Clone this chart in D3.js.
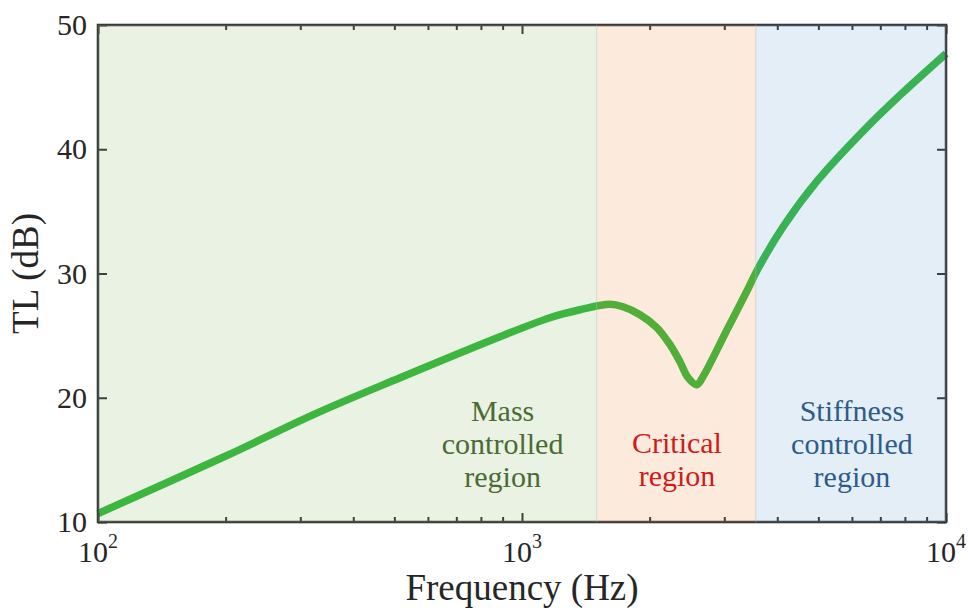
<!DOCTYPE html>
<html>
<head>
<meta charset="utf-8">
<script src="https://cdn.jsdelivr.net/npm/d3@7"></script>
<style>
  body { margin: 0; background: #fff; }
  svg text { font-family: "Liberation Serif", "DejaVu Serif", serif; fill: #262626; }
</style>
</head>
<body>
<div id="chart"></div>
<script>
let width = 968;
let height = 610;
let margin = ({top: 25, right: 22, bottom: 88, left: 98});

// Transmission loss curve
let freq = [100, 199, 330, 516, 887, 1164, 1370, 1613, 1731, 1898, 2082, 2234, 2358, 2464, 2586, 2673, 3045, 3395, 3581, 4127, 4990, 6513, 7795, 10000];
let tl   = [10.68, 15.27, 18.8, 21.61, 24.91, 26.44, 27.08, 27.52, 27.32, 26.68, 25.63, 24.27, 22.9, 21.62, 21.05, 21.7, 25.47, 28.61, 30.22, 33.75, 37.53, 41.79, 44.36, 47.7];

// Shaded regions
let regionStart = [100, 1500, 3560];
let regionEnd   = [1500, 3560, 10000];
let regionFill  = ["#91be73", "#f09650", "#78aad7"];

// Region labels
let labelLines = [["Mass", "controlled", "region"], ["Critical", "region"], ["Stiffness", "controlled", "region"]];
let labelFreq  = [900, 2320, 6000];
let labelTL    = [16.3, 15.0, 16.3];
let labelColor = ["#4b6a35", "#cc1c1c", "#2f5b8a"];

let xMajor = [100, 1000, 10000];
let xMinor = [200, 300, 400, 500, 600, 700, 800, 900, 2000, 3000, 4000, 5000, 6000, 7000, 8000, 9000];
let yTicks = [10, 20, 30, 40, 50];

let svg = d3.select("#chart")
    .append("svg")
    .attr("width", width)
    .attr("height", height);

let xScale = d3.scaleLog()
    .domain([100, 10000])
    .range([margin.left, width - margin.right]);

let yScale = d3.scaleLinear()
    .domain([10, 50])
    .range([height - margin.bottom, margin.top]);

let axisColor = "#262626";

// Curve first, the translucent patches go over it (gives the tinted look)
let line = d3.line()
    .x(function(d, i) { return xScale(freq[i]); })
    .y(function(d) { return yScale(d); })
    .curve(d3.curveCatmullRom.alpha(0.5));

svg.append("path")
    .datum(tl)
    .attr("fill", "none")
    .attr("stroke", "#28b434")
    .attr("stroke-width", 7.5)
    .attr("d", line);

// Box
svg.append("rect")
    .attr("x", margin.left)
    .attr("y", margin.top)
    .attr("width", width - margin.left - margin.right)
    .attr("height", height - margin.top - margin.bottom)
    .attr("fill", "none")
    .attr("stroke", axisColor)
    .attr("stroke-width", 2.5);

// Ticks, all pointing inward
function styleAxis(g) {
    g.select(".domain").remove();
    g.selectAll(".tick line").attr("stroke", axisColor).attr("stroke-width", 2);
    g.selectAll(".tick text").remove();
}

svg.append("g")
    .attr("transform", "translate(0," + (height - margin.bottom) + ")")
    .call(d3.axisBottom(xScale).tickValues(xMajor).tickSize(-9))
    .call(styleAxis);
svg.append("g")
    .attr("transform", "translate(0," + (height - margin.bottom) + ")")
    .call(d3.axisBottom(xScale).tickValues(xMinor).tickSize(-5))
    .call(styleAxis);
svg.append("g")
    .attr("transform", "translate(0," + margin.top + ")")
    .call(d3.axisTop(xScale).tickValues(xMajor).tickSize(-9))
    .call(styleAxis);
svg.append("g")
    .attr("transform", "translate(0," + margin.top + ")")
    .call(d3.axisTop(xScale).tickValues(xMinor).tickSize(-5))
    .call(styleAxis);
svg.append("g")
    .attr("transform", "translate(" + margin.left + ",0)")
    .call(d3.axisLeft(yScale).tickValues(yTicks).tickSize(-9))
    .call(styleAxis);
svg.append("g")
    .attr("transform", "translate(" + (width - margin.right) + ",0)")
    .call(d3.axisRight(yScale).tickValues(yTicks).tickSize(-9))
    .call(styleAxis);

// Patches on top
svg.selectAll(".region")
    .data(regionStart)
    .enter()
    .append("rect")
    .attr("class", "region")
    .attr("x", function(d) { return xScale(d); })
    .attr("y", yScale(50))
    .attr("width", function(d, i) { return xScale(regionEnd[i]) - xScale(d); })
    .attr("height", yScale(10) - yScale(50))
    .attr("fill", function(d, i) { return regionFill[i]; })
    .attr("fill-opacity", 0.2)
    .attr("stroke", "#b8c4d0")
    .attr("stroke-opacity", 0.25)
    .attr("stroke-width", 1);

// Tick labels
svg.selectAll(".ylab")
    .data(yTicks)
    .enter()
    .append("text")
    .attr("class", "ylab")
    .attr("x", margin.left - 11)
    .attr("y", function(d) { return yScale(d); })
    .attr("dy", "0.34em")
    .attr("text-anchor", "end")
    .style("font-size", "30px")
    .text(function(d) { return d; });

let xLabels = svg.selectAll(".xlab")
    .data(xMajor)
    .enter()
    .append("text")
    .attr("class", "xlab")
    .attr("x", function(d) { return xScale(d); })
    .attr("y", height - margin.bottom + 40)
    .attr("text-anchor", "middle")
    .style("font-size", "30px");
xLabels.append("tspan").text("10");
xLabels.append("tspan")
    .attr("dy", -14)
    .style("font-size", "20px")
    .text(function(d) { return Math.round(Math.log10(d)); });

// Axis titles
svg.append("text")
    .attr("x", (margin.left + width - margin.right) / 2)
    .attr("y", 600)
    .attr("text-anchor", "middle")
    .style("font-size", "37px")
    .text("Frequency (Hz)");

svg.append("text")
    .attr("transform", "translate(38," + ((margin.top + height - margin.bottom) / 2) + ") rotate(-90)")
    .attr("text-anchor", "middle")
    .style("font-size", "37px")
    .text("TL (dB)");

// Region labels
labelLines.forEach(function(lines, i) {
    let cy = yScale(labelTL[i]);
    let t = svg.append("text")
        .attr("text-anchor", "middle")
        .style("font-size", "30px")
        .style("fill", labelColor[i]);
    lines.forEach(function(s, j) {
        t.append("tspan")
            .attr("x", xScale(labelFreq[i]))
            .attr("y", cy + (j - (lines.length - 1) / 2) * 33 + 10)
            .text(s);
    });
});
</script>
</body>
</html>
